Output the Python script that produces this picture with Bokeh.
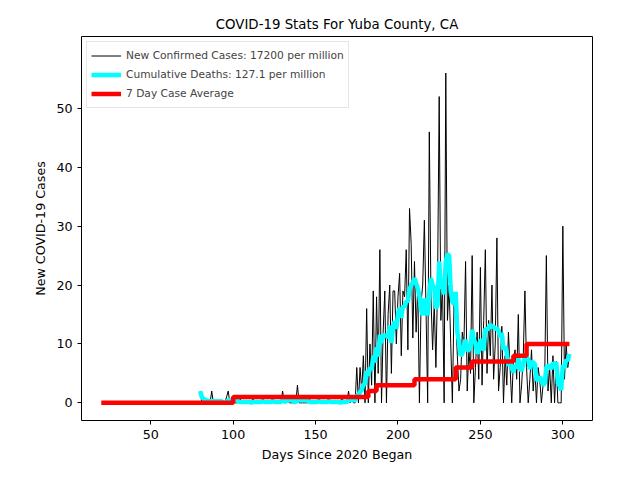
import numpy as np
from bokeh.plotting import figure
from bokeh.models import Range1d, FixedTicker, Legend, LegendItem
from bokeh.embed import file_html
from bokeh.resources import INLINE

early_days = list(range(80, 175))
early_cases = [0] * 95
for d, v in [(80, 2), (87, 2), (96, 1), (97, 2), (104, 1), (112, 1), (118, 1), (124, 1),
             (130, 2), (133, 1), (139, 3), (146, 1), (152, 1), (158, 1), (166, 1), (170, 2), (172, 1)]:
    early_cases[d - 80] = v

late_days = list(range(175, 305))
late_cases = [6, 0, 6, 2, 8, 0, 16, 0, 10, 3,
              19, 0, 18, 5, 26, 0, 12, 19, 0, 15,
              20, 5, 19, 19, 10, 18, 22, 8, 19, 18,
              26, 9, 33, 27, 11, 24, 12, 20, 0, 17,
              20, 31, 16, 0, 46, 18, 9, 17, 6, 20,
              52, 14, 20, 0, 56, 14, 20, 10, 0, 17,
              15, 8, 2, 4, 12, 10, 24, 2, 9, 5,
              25, 0, 6, 12, 4, 23, 3, 14, 26, 5,
              14, 8, 20, 4, 10, 28, 2, 6, 13, 0,
              8, 3, 12, 6, 0, 7, 9, 4, 15, 0,
              3, 8, 19, 6, 0, 4, 9, 2, 6, 0,
              6, 4, 0, 3, 4, 25, 2, 6, 0, 8,
              0, 7, 0, 0, 0, 30, 4, 10, 6, 8]

days = early_days + late_days
cases = early_cases + late_cases

# 7-day running mean of the daily cases
avg = [float(np.mean(cases[max(0, i - 6):i + 1])) for i in range(len(cases))]

step_days = [20, 100, 182, 187, 210, 235, 245, 270, 278, 304]
step_vals = [0, 1, 2, 3, 4, 6, 7, 8, 10, 10]

p = figure(width=624, height=464, output_backend="svg", toolbar_location=None,
           x_range=Range1d(8, 318), y_range=Range1d(-3, 62.2),
           min_border_left=81, min_border_right=32, min_border_top=36, min_border_bottom=34,
           title="COVID-19 Stats For Yuba County, CA")
p.title.align = "center"
p.title.text_font = "DejaVu Sans"
p.title.text_font_size = "10pt"
p.title.text_font_style = "normal"
p.title.text_color = "black"
p.xgrid.visible = False
p.ygrid.visible = False
p.outline_line_color = "black"
p.xaxis.axis_label = "Days Since 2020 Began"
p.yaxis.axis_label = "New COVID-19 Cases"
p.xaxis.ticker = FixedTicker(ticks=[50, 100, 150, 200, 250, 300])
p.yaxis.ticker = FixedTicker(ticks=[0, 10, 20, 30, 40, 50])
for ax in (p.xaxis[0], p.yaxis[0]):
    ax.axis_label_text_font = "DejaVu Sans"
    ax.axis_label_text_font_size = "9.5pt"
    ax.axis_label_text_font_style = "normal"
    ax.axis_label_text_color = "black"
    ax.major_label_text_font = "DejaVu Sans"
    ax.major_label_text_font_size = "9.5pt"
    ax.major_label_text_color = "black"
    ax.axis_line_color = None
    ax.minor_tick_line_color = None
    ax.major_tick_out = 4
    ax.major_tick_in = 0

r1 = p.line(days, cases, color="black", line_width=1)
r2 = p.line(days, avg, color="cyan", line_width=4.5)
r3 = p.step(step_days, step_vals, mode="after", color="red", line_width=4.5)

legend = Legend(items=[LegendItem(label="New Confirmed Cases: 17200 per million", renderers=[r1]),
                       LegendItem(label="Cumulative Deaths: 127.1 per million", renderers=[r2]),
                       LegendItem(label="7 Day Case Average", renderers=[r3])],
                location="top_left", label_text_font="DejaVu Sans", label_text_font_size="8pt",
                spacing=0, padding=4, margin=5, glyph_height=19, glyph_width=30,
                label_height=15, border_line_color="#cccccc")
p.add_layout(legend)

open("out.html", "w").write(file_html(p, INLINE))
